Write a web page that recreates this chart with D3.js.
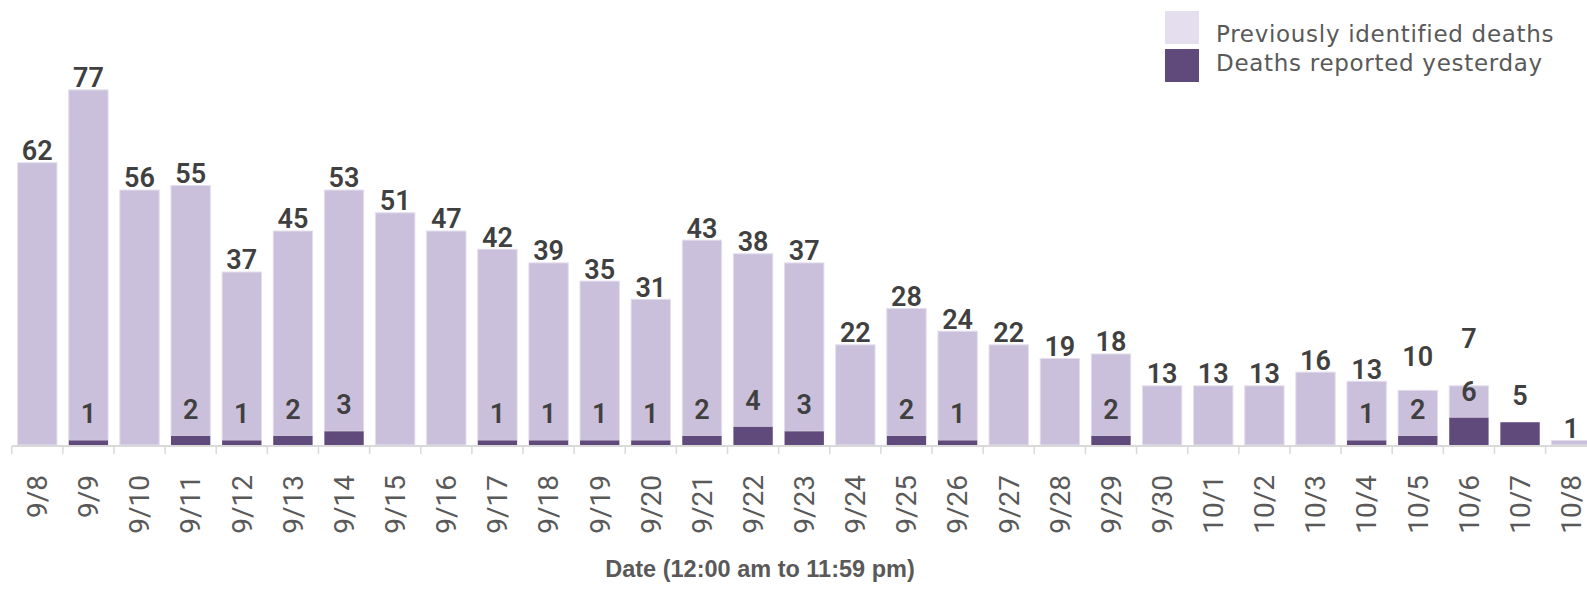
<html><head>
<script src="https://d3js.org/d3.v7.min.js"></script>
<style>
  body { margin: 0; background: #fff; }
  text.value { font-family: Roboto, sans-serif; font-weight: 600; font-size: 27px; fill: #404040; text-anchor: middle; }
  .x-axis text { font-family: Roboto, sans-serif; font-size: 28px; fill: #595959; }
  text.legend { font-family: "DejaVu Sans", sans-serif; font-size: 23px; letter-spacing: 0.7px; fill: #595959; }
  text.axis-title { font-family: "Liberation Sans", Arial, sans-serif; font-weight: bold; font-size: 23.5px; fill: #595959; text-anchor: middle; }
</style>
</head>
<body>
<svg id="chart" width="1587" height="589"></svg>
<script>

// Data
const dates = ["9/8","9/9","9/10","9/11","9/12","9/13","9/14","9/15","9/16","9/17","9/18","9/19","9/20","9/21","9/22","9/23",
               "9/24","9/25","9/26","9/27","9/28","9/29","9/30","10/1","10/2","10/3","10/4","10/5","10/6","10/7","10/8"];
const previous = [62,77,56,55,37,45,53,51,47,42,39,35,31,43,38,37,22,28,24,22,19,18,13,13,13,16,13,10,7,0,1];
const yesterday = [0,1,0,2,1,2,3,0,0,1,1,1,1,2,4,3,0,2,1,0,0,2,0,0,0,0,1,2,6,5,0];
const seriesNames = ["Previously identified deaths", "Deaths reported yesterday"];

const lightColor = "#cac0dc";
const legendLight = "#e4deee";
const darkColor = "#5f4a7b";

const rows = dates.map((d, i) => ({ date: d, prev: previous[i], yest: yesterday[i], total: previous[i] + yesterday[i] }));

const svg = d3.select("#chart");
const baseY = 445;
const left = 11.7;
const step = 51.13;

const x = d3.scaleBand().domain(dates)
            .range([left, left + step * dates.length])
            .paddingInner(0.23).paddingOuter(0.115);
const y = d3.scaleLinear().domain([0, 80]).range([baseY, baseY - 80 * 4.553]);

// bars: dark segment at the bottom, light on top
const bars = svg.append("g");
bars.selectAll("rect.prev").data(rows.filter(d => d.prev > 0))
    .join("rect").attr("class", "prev")
    .attr("x", d => x(d.date))
    .attr("width", x.bandwidth())
    .attr("y", d => y(d.total))
    .attr("height", d => y(d.yest) - y(d.total))
    .attr("fill", lightColor)
    .attr("stroke", "#e4deec").attr("stroke-width", 1);

bars.selectAll("rect.yest").data(rows.filter(d => d.yest > 0))
    .join("rect").attr("class", "yest")
    .attr("x", d => x(d.date))
    .attr("width", x.bandwidth())
    .attr("y", d => y(d.yest))
    .attr("height", d => y(0) - y(d.yest))
    .attr("fill", darkColor);

// axis: labels centred on bands, ticks on the boundaries
const xAxis = svg.append("g").attr("class", "x-axis")
                 .attr("transform", "translate(0," + (baseY + 1) + ")")
                 .call(d3.axisBottom(x).tickSizeOuter(0).tickSize(8).tickPadding(0));
xAxis.select(".domain").attr("stroke", "#d9d9d9").attr("stroke-width", 2)
     .attr("d", "M" + left + ",0H" + (left + step * dates.length));
xAxis.selectAll(".tick line").attr("stroke", "#d9d9d9").attr("stroke-width", 1.5)
     .attr("x1", -step / 2).attr("x2", -step / 2);
xAxis.selectAll(".tick text")
     .attr("transform", "rotate(-90)")
     .attr("x", -29).attr("y", 0).attr("dy", "0.35em")
     .style("text-anchor", "end");

// value labels
const labels = svg.append("g");
rows.forEach(d => {
  let innerY = null;
  if (d.yest > 0) {
    innerY = y(d.yest) - 26.5;
    labels.append("text").attr("class", "value")
          .attr("x", x(d.date) + x.bandwidth() / 2)
          .attr("y", innerY).attr("dy", "0.35em")
          .text(d.yest);
  }
  if (d.prev > 0) {
    let topY = y(d.total) - 12;
    if (innerY !== null && innerY - topY < 40) topY = innerY - 53; // nudge when crowded
    labels.append("text").attr("class", "value")
          .attr("x", x(d.date) + x.bandwidth() / 2)
          .attr("y", topY).attr("dy", "0.35em")
          .text(d.prev);
  }
});

// legend
const legend = svg.append("g");
const swatchY = [11, 49];
const textY = [42, 71];
[legendLight, darkColor].forEach((c, i) => {
  legend.append("rect").attr("x", 1165).attr("y", swatchY[i]).attr("width", 34).attr("height", 33).attr("fill", c);
  legend.append("text").attr("class", "legend").attr("x", 1216).attr("y", textY[i]).text(seriesNames[i]);
});

// axis title
svg.append("text").attr("class", "axis-title")
   .attr("x", 760).attr("y", 577)
   .text("Date (12:00 am to 11:59 pm)");

</script>
</body>
</html>
